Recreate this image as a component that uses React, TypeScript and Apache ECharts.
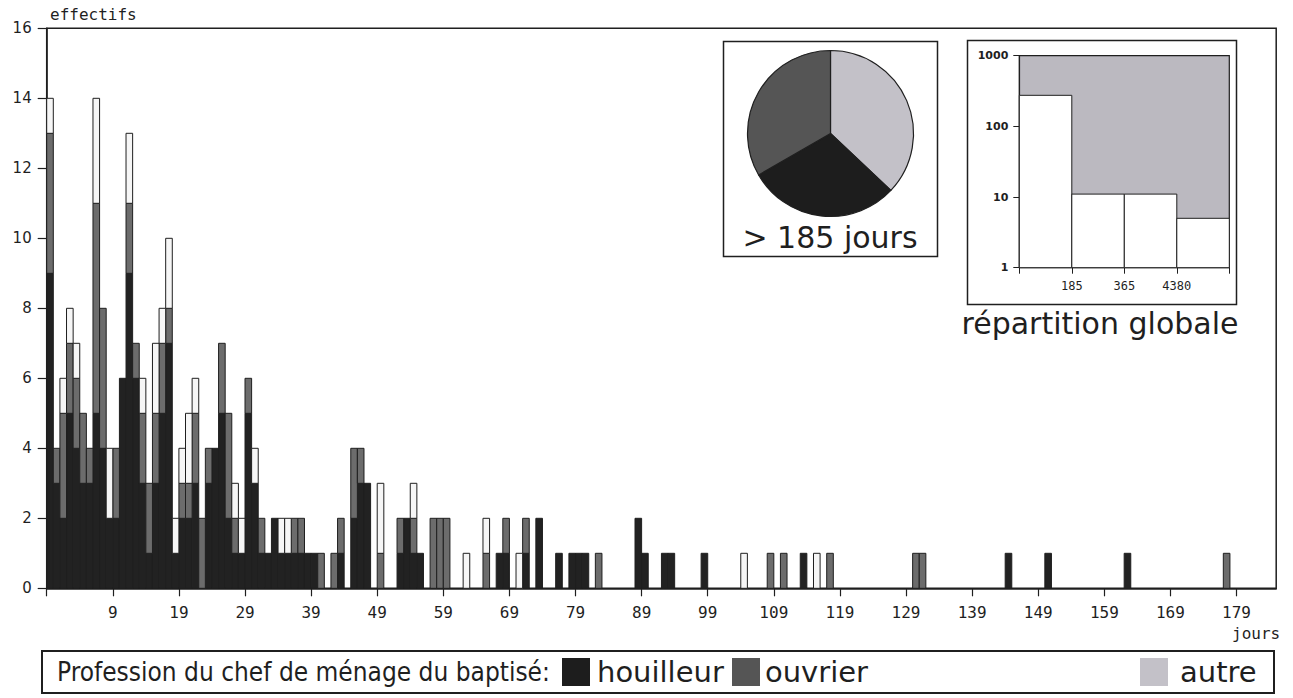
import React, { useEffect, useRef } from "react";
import * as echarts from "echarts";

// Daily counts of baptisms by the father's trade; bar i covers day i (axis labels show i - 1).
const houilleur = [
  9, 3, 2, 5, 4, 3, 3, 5, 4, 2,
  2, 6, 9, 6, 3, 1, 3, 5, 7, 1,
  2, 2, 3, 0, 3, 4, 5, 2, 1, 1,
  5, 3, 1, 1, 2, 1, 1, 1, 1, 1,
  1, 0, 0, 0, 1, 0, 2, 3, 3, 0,
  0, 0, 0, 1, 2, 1, 1, 0, 0, 0,
  0, 0, 0, 0, 0, 0, 0, 0, 1, 1,
  0, 0, 1, 0, 2, 0, 0, 1, 0, 1,
  1, 1, 0, 0, 0, 0, 0, 0, 0, 2,
  1, 0, 0, 1, 1, 0, 0, 0, 0, 1,
  0, 0, 0, 0, 0, 0, 0, 0, 0, 0,
  0, 0, 0, 0, 1, 0, 0, 0, 0, 0,
  0, 0, 0, 0, 0, 0, 0, 0, 0, 0,
  0, 0, 0, 0, 0, 0, 0, 0, 0, 0,
  0, 0, 0, 0, 0, 1, 0, 0, 0, 0,
  0, 1, 0, 0, 0, 0, 0, 0, 0, 0,
  0, 0, 0, 1, 0, 0, 0, 0, 0, 0,
  0, 0, 0, 0, 0, 0, 0, 0, 0, 0,
];
const ouvrier = [
  4, 1, 3, 2, 2, 2, 1, 6, 4, 0,
  2, 0, 2, 1, 2, 2, 2, 2, 1, 0,
  1, 1, 2, 2, 1, 0, 2, 3, 1, 0,
  1, 0, 1, 0, 0, 0, 0, 1, 1, 0,
  0, 1, 0, 1, 1, 0, 2, 1, 0, 0,
  1, 0, 0, 1, 0, 1, 0, 0, 2, 2,
  2, 0, 0, 0, 0, 0, 1, 0, 0, 1,
  0, 0, 1, 0, 0, 0, 0, 0, 0, 0,
  0, 0, 0, 1, 0, 0, 0, 0, 0, 0,
  0, 0, 0, 0, 0, 0, 0, 0, 0, 0,
  0, 0, 0, 0, 0, 0, 0, 0, 0, 1,
  0, 1, 0, 0, 0, 0, 0, 0, 1, 0,
  0, 0, 0, 0, 0, 0, 0, 0, 0, 0,
  0, 1, 1, 0, 0, 0, 0, 0, 0, 0,
  0, 0, 0, 0, 0, 0, 0, 0, 0, 0,
  0, 0, 0, 0, 0, 0, 0, 0, 0, 0,
  0, 0, 0, 0, 0, 0, 0, 0, 0, 0,
  0, 0, 0, 0, 0, 0, 0, 0, 1, 0,
];
const autre = [
  1, 0, 1, 1, 1, 0, 0, 3, 0, 2,
  0, 0, 2, 0, 1, 0, 2, 1, 2, 1,
  1, 2, 1, 0, 0, 0, 0, 0, 1, 1,
  0, 1, 0, 0, 0, 1, 1, 0, 0, 0,
  0, 0, 0, 0, 0, 0, 0, 0, 0, 0,
  2, 0, 0, 0, 0, 1, 0, 0, 0, 0,
  0, 0, 0, 1, 0, 0, 1, 0, 0, 0,
  0, 1, 0, 0, 0, 0, 0, 0, 0, 0,
  0, 0, 0, 0, 0, 0, 0, 0, 0, 0,
  0, 0, 0, 0, 0, 0, 0, 0, 0, 0,
  0, 0, 0, 0, 0, 1, 0, 0, 0, 0,
  0, 0, 0, 0, 0, 0, 1, 0, 0, 0,
  0, 0, 0, 0, 0, 0, 0, 0, 0, 0,
  0, 0, 0, 0, 0, 0, 0, 0, 0, 0,
  0, 0, 0, 0, 0, 0, 0, 0, 0, 0,
  0, 0, 0, 0, 0, 0, 0, 0, 0, 0,
  0, 0, 0, 0, 0, 0, 0, 0, 0, 0,
  0, 0, 0, 0, 0, 0, 0, 0, 0, 0,
];

const xTickPositions = [0, 10, 20, 30, 40, 50, 60, 70, 80, 90, 100, 110, 120, 130, 140, 150, 160, 170, 180];
const xLabelPositions = [10, 20, 30, 40, 50, 60, 70, 80, 90, 100, 110, 120, 130, 140, 150, 160, 170, 180];

// Beyond 185 days: share of each trade.
const pieLabels = ["autre", "houilleur", "ouvrier"];
const pieValues = [10, 8, 9];

// Overall distribution by duration class (log scale).
const classBounds = ["185", "365", "4380"];
const classCounts = [275, 11, 11, 5];

const MAIN = { houilleur: "#222222", ouvrier: "#6c6c6c", autre: "#f6f6f6" };
const KEY = { houilleur: "#1d1d1d", ouvrier: "#555555", autre: "#c3c1c8" };
const INK = "#1f1f1f";
const SANS = "'DejaVu Sans', sans-serif";
const COND = "'DejaVu Sans Condensed', 'DejaVu Sans', sans-serif";
const MONO = "'DejaVu Sans Mono', monospace";

export default function App() {
  const ref = useRef<HTMLDivElement>(null);

  useEffect(() => {
    document.body.style.margin = "0";
    const chart = echarts.init(ref.current!, null, { renderer: "svg" });

    const n = houilleur.length;
    const segH: number[][] = [];
    const segO: number[][] = [];
    const segA: number[][] = [];
    for (let i = 0; i < n; i++) {
      const h = houilleur[i], o = ouvrier[i], a = autre[i];
      if (h > 0) segH.push([i, 0, h]);
      if (o > 0) segO.push([i, h, h + o]);
      if (a > 0) segA.push([i, h + o, h + o + a]);
    }

    const barRender = (fill: string) => (params: any, api: any) => {
      const i = api.value(0);
      const lo = api.value(1);
      const hi = api.value(2);
      const p0 = api.coord([i, lo]);
      const p1 = api.coord([i + 1, hi]);
      return {
        type: "rect",
        shape: { x: p0[0], y: p1[1], width: p1[0] - p0[0], height: p0[1] - p1[1] },
        style: { fill, stroke: INK, lineWidth: 1 },
      };
    };

    const classRender = (params: any, api: any) => {
      const i = api.value(0);
      const v = api.value(1);
      const p0 = api.coord([i, 1]);
      const p1 = api.coord([i + 1, v]);
      return {
        type: "rect",
        shape: { x: p0[0], y: p1[1], width: p1[0] - p0[0], height: p0[1] - p1[1] },
        style: { fill: "#ffffff", stroke: INK, lineWidth: 1 },
      };
    };

    chart.setOption({
      animation: false,
      backgroundColor: "#ffffff",
      grid: [
        {
          left: 46.7, top: 28.3, width: 1229.5, height: 560,
          show: true, borderColor: INK, borderWidth: 1.5, backgroundColor: "transparent",
          outerBoundsMode: "none",
        },
        {
          left: 1019.3, top: 55.7, width: 210, height: 212,
          show: true, borderColor: INK, borderWidth: 1.2, backgroundColor: "#bbb9c0",
          outerBoundsMode: "none",
        },
      ],
      xAxis: [
        {
          type: "value", gridIndex: 0, min: 0, max: 186, interval: 10,
          axisLine: { lineStyle: { color: INK, width: 1.5 } },
          axisTick: { show: true, customValues: xTickPositions, length: 8, lineStyle: { color: INK, width: 1.2 } },
          axisLabel: {
            customValues: xLabelPositions,
            formatter: (v: number) => String(v - 1),
            color: INK, fontFamily: MONO, fontSize: 16, margin: 16,
          },
          splitLine: { show: false },
        },
        {
          type: "value", gridIndex: 1, min: 0, max: 4, interval: 1,
          axisLine: { lineStyle: { color: INK, width: 1.2 } },
          axisTick: { show: true, customValues: [0, 1, 2, 3, 4], length: 6, lineStyle: { color: INK } },
          axisLabel: {
            customValues: [1, 2, 3],
            formatter: (v: number) => classBounds[v - 1] ?? "",
            color: INK, fontFamily: MONO, fontSize: 12, margin: 12,
          },
          splitLine: { show: false },
        },
      ],
      yAxis: [
        {
          type: "value", gridIndex: 0, min: 0, max: 16, interval: 2,
          axisLine: { show: true, lineStyle: { color: INK, width: 1.5 } },
          axisTick: { show: true, length: 9, lineStyle: { color: INK, width: 1.2 } },
          axisLabel: { color: INK, fontFamily: SANS, fontSize: 15, margin: 15 },
          splitLine: { show: false },
        },
        {
          type: "log", gridIndex: 1, min: 1, max: 1000, logBase: 10,
          axisLine: { show: true, lineStyle: { color: INK, width: 1.2 } },
          axisTick: { show: true, length: 6, lineStyle: { color: INK } },
          axisLabel: {
            color: INK, fontFamily: SANS, fontSize: 11, fontWeight: "bold", margin: 11,
            formatter: (v: number) => String(Math.round(v)),
          },
          splitLine: { show: false },
        },
      ],
      series: [
        { type: "custom", name: "houilleur", xAxisIndex: 0, yAxisIndex: 0, data: segH, encode: { x: 0, y: 2 }, renderItem: barRender(MAIN.houilleur) },
        { type: "custom", name: "ouvrier", xAxisIndex: 0, yAxisIndex: 0, data: segO, encode: { x: 0, y: 2 }, renderItem: barRender(MAIN.ouvrier) },
        { type: "custom", name: "autre", xAxisIndex: 0, yAxisIndex: 0, data: segA, encode: { x: 0, y: 2 }, renderItem: barRender(MAIN.autre) },
        {
          type: "custom", name: "répartition", xAxisIndex: 1, yAxisIndex: 1,
          data: classCounts.map((v, i) => [i, v]), encode: { x: 0, y: 1 }, renderItem: classRender,
        },
        {
          type: "pie", center: [830.5, 133.5], radius: 83, startAngle: 90, clockwise: true,
          label: { show: false }, labelLine: { show: false }, emphasis: { disabled: true },
          itemStyle: { borderColor: INK, borderWidth: 1.2 },
          data: pieLabels.map((name, i) => ({
            name, value: pieValues[i],
            itemStyle: { color: (KEY as any)[name] },
          })),
        },
      ],
      graphic: [
        { type: "rect", shape: { x: 723.5, y: 41.5, width: 214, height: 215 }, style: { fill: "none", stroke: INK, lineWidth: 1.5 } },
        { type: "rect", shape: { x: 967.5, y: 40.5, width: 269, height: 264 }, style: { fill: "none", stroke: INK, lineWidth: 1.5 } },
        { type: "text", x: 830, y: 237, style: { text: "> 185 jours", font: `30px ${SANS}`, fill: INK, align: "center", verticalAlign: "middle" } },
        { type: "text", x: 1100, y: 323, style: { text: "répartition globale", font: `30px ${SANS}`, fill: INK, align: "center", verticalAlign: "middle" } },
        { type: "text", x: 50, y: 14, style: { text: "effectifs", font: `16px ${MONO}`, fill: INK, align: "left", verticalAlign: "middle" } },
        { type: "text", x: 1232, y: 633, style: { text: "jours", font: `16px ${MONO}`, fill: INK, align: "left", verticalAlign: "middle" } },
        { type: "rect", shape: { x: 42, y: 651, width: 1232, height: 42 }, style: { fill: "none", stroke: INK, lineWidth: 2 } },
        { type: "text", x: 57, y: 672, style: { text: "Profession du chef de ménage du baptisé:", font: `26px ${COND}`, fill: INK, align: "left", verticalAlign: "middle" } },
        { type: "rect", shape: { x: 562, y: 658, width: 28, height: 28 }, style: { fill: KEY.houilleur } },
        { type: "text", x: 597, y: 672, style: { text: "houilleur", font: `29px ${SANS}`, fill: INK, align: "left", verticalAlign: "middle" } },
        { type: "rect", shape: { x: 732, y: 658, width: 28, height: 28 }, style: { fill: KEY.ouvrier } },
        { type: "text", x: 765, y: 672, style: { text: "ouvrier", font: `29px ${SANS}`, fill: INK, align: "left", verticalAlign: "middle" } },
        { type: "rect", shape: { x: 1140, y: 658, width: 28, height: 28 }, style: { fill: KEY.autre } },
        { type: "text", x: 1180, y: 672, style: { text: "autre", font: `29px ${SANS}`, fill: INK, align: "left", verticalAlign: "middle" } },
      ],
    });

    return () => chart.dispose();
  }, []);

  return <div ref={ref} style={{ width: 1293, height: 698 }} />;
}
